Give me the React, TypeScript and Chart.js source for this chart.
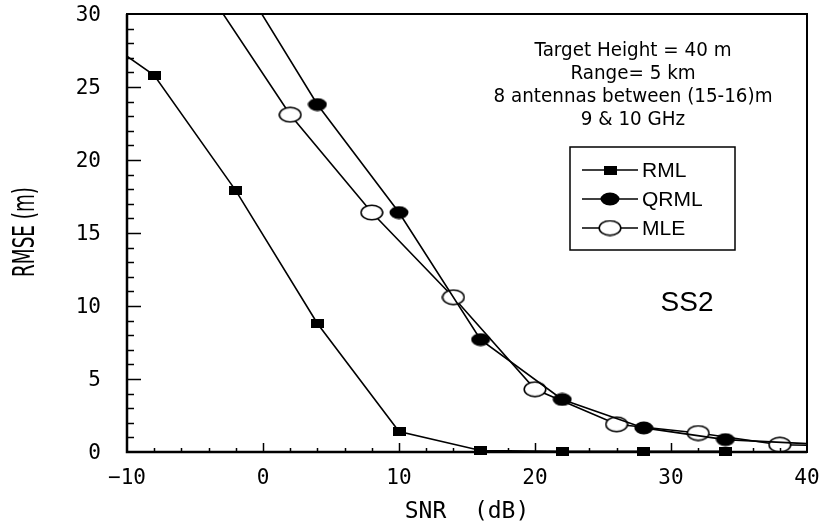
import React, { useEffect, useRef } from "react";
import { Chart, registerables } from "chart.js";

Chart.register(...registerables);

// ---- data ----
const rmlSnr = [-14, -8, -2, 4, 10, 16, 22, 28, 34];
const rmlRmse = [29.7, 25.8, 17.9, 8.8, 1.4, 0.1, 0.05, 0.05, 0.05];

const qrmlSnr = [-2, 4, 10, 16, 22, 28, 34, 46];
const qrmlRmse = [32.9, 23.8, 16.4, 7.7, 3.6, 1.65, 0.85, 0.3];

const mleSnr = [-4, 2, 8, 14, 20, 26, 32, 38, 44];
const mleRmse = [31.5, 23.1, 16.4, 10.6, 4.3, 1.9, 1.3, 0.5, 0.4];

const seriesNames = ["RML", "QRML", "MLE"];
const xTicks = [-10, 0, 10, 20, 30, 40];
const yTicks = [0, 5, 10, 15, 20, 25, 30];

const noteLines = [
  "Target Height = 40 m",
  "Range= 5 km",
  "8 antennas between (15-16)m",
  "9 & 10 GHz",
];
const panelLabel = "SS2";
const xTitle = "SNR  (dB)";
const yTitle = "RMSE (m)";

function makeMarker(kind: string): HTMLCanvasElement {
  const c = document.createElement("canvas");
  const ctx = c.getContext("2d")!;
  if (kind === "rect") {
    c.width = 13;
    c.height = 9;
    ctx.fillStyle = "#000";
    ctx.fillRect(0, 0, 13, 9);
  } else if (kind === "filled") {
    c.width = 20;
    c.height = 14;
    ctx.fillStyle = "#000";
    ctx.beginPath();
    ctx.ellipse(10, 7, 9.5, 6.5, 0, 0, Math.PI * 2);
    ctx.fill();
  } else {
    c.width = 24;
    c.height = 17;
    ctx.fillStyle = "#fff";
    ctx.strokeStyle = "#000";
    ctx.lineWidth = 1.6;
    ctx.beginPath();
    ctx.ellipse(12, 8.5, 10.8, 7.3, 0, 0, Math.PI * 2);
    ctx.fill();
    ctx.stroke();
  }
  return c;
}

export default function App() {
  const ref = useRef<HTMLCanvasElement | null>(null);

  useEffect(() => {
    if (!ref.current) return;
    const mRect = makeMarker("rect");
    const mFilled = makeMarker("filled");
    const mOpen = makeMarker("open");
    const markers = [mRect, mFilled, mOpen];

    const toPts = (xs: number[], ys: number[]) => xs.map((x, i) => ({ x, y: ys[i] }));

    const framePlugin = {
      id: "frame",
      afterDatasetsDraw(chart: any) {
        const { ctx, chartArea: ca, scales } = chart;
        const xs = scales.x;
        const ys = scales.y;
        ctx.save();
        ctx.strokeStyle = "#000";
        ctx.lineWidth = 1.5;
        // inward ticks
        ctx.beginPath();
        for (let v = 1; v < 30; v++) {
          const len = v % 5 === 0 ? 14 : 7;
          const py = Math.round(ys.getPixelForValue(v)) + 0.5;
          ctx.moveTo(ca.left, py);
          ctx.lineTo(ca.left + len, py);
        }
        for (let v = -8; v < 40; v += 2) {
          const len = v % 10 === 0 ? 9 : 4;
          const px = Math.round(xs.getPixelForValue(v)) + 0.5;
          ctx.moveTo(px, ca.bottom);
          ctx.lineTo(px, ca.bottom - len);
        }
        ctx.stroke();
        ctx.lineWidth = 2;
        ctx.strokeRect(ca.left, ca.top, ca.right - ca.left, ca.bottom - ca.top);
        ctx.lineWidth = 2.5;
        ctx.beginPath();
        ctx.moveTo(ca.left, ca.top);
        ctx.lineTo(ca.left, ca.bottom);
        ctx.lineTo(ca.right, ca.bottom);
        ctx.stroke();
        // redraw RML markers that sit on the baseline over the axis
        const meta = chart.getDatasetMeta(0);
        meta.data.forEach((pt: any) => {
          if (pt.x >= ca.left && pt.x <= ca.right && pt.y > ca.bottom - 5) {
            ctx.drawImage(mRect, pt.x - mRect.width / 2, pt.y - mRect.height / 2);
          }
        });
        ctx.restore();
      },
      afterDraw(chart: any) {
        const { ctx, chartArea: ca } = chart;
        ctx.save();
        ctx.fillStyle = "#000";
        // y title (tall condensed)
        ctx.save();
        ctx.font = '30px "DejaVu Sans", sans-serif';
        const tw = ctx.measureText(yTitle).width;
        ctx.translate(26, ca.top + 218);
        ctx.rotate(-Math.PI / 2);
        ctx.scale(90 / tw, 1);
        ctx.textAlign = "center";
        ctx.textBaseline = "middle";
        ctx.fillText(yTitle, 0, 0);
        ctx.restore();
        // annotation (condensed)
        ctx.save();
        ctx.font = '20px "DejaVu Sans", sans-serif';
        const lw = Math.max(...noteLines.map((t) => ctx.measureText(t).width));
        const sx = 279 / lw;
        ctx.translate(ca.left + 506, ca.top + 37);
        ctx.scale(sx, 1);
        ctx.textAlign = "center";
        ctx.textBaseline = "middle";
        noteLines.forEach((t, i) => ctx.fillText(t, 0, i * 23));
        ctx.restore();
        // SS2
        ctx.textAlign = "center";
        ctx.textBaseline = "middle";
        ctx.font = '28px "Liberation Sans", "DejaVu Sans"';
        ctx.fillText(panelLabel, ca.left + 560, ca.top + 289);
        // legend
        const bx = ca.left + 443;
        const by = ca.top + 133;
        ctx.lineWidth = 1.5;
        ctx.strokeStyle = "#000";
        ctx.strokeRect(bx, by, 165, 103);
        ctx.font = '21px "Liberation Sans", "DejaVu Sans"';
        ctx.textAlign = "left";
        seriesNames.forEach((name, i) => {
          const y = by + 23 + i * 29;
          ctx.beginPath();
          ctx.moveTo(bx + 12, y);
          ctx.lineTo(bx + 68, y);
          ctx.stroke();
          const m = markers[i];
          ctx.drawImage(m, bx + 40 - m.width / 2, y - m.height / 2);
          ctx.fillText(name, bx + 72, y + 1);
        });
        ctx.restore();
      },
    };

    const tickFont = { family: '"DejaVu Sans Mono", monospace', size: 21 };

    const chart = new Chart(ref.current, {
      type: "line",
      data: {
        datasets: [
          {
            label: seriesNames[0],
            data: toPts(rmlSnr, rmlRmse),
            borderColor: "#000",
            borderWidth: 1.6,
            pointStyle: mRect as any,
            pointRadius: 6,
            backgroundColor: "#000",
            tension: 0,
          },
          {
            label: seriesNames[1],
            data: toPts(qrmlSnr, qrmlRmse),
            borderColor: "#000",
            borderWidth: 1.6,
            pointStyle: mFilled as any,
            pointRadius: 8,
            backgroundColor: "#000",
            tension: 0,
          },
          {
            label: seriesNames[2],
            data: toPts(mleSnr, mleRmse),
            borderColor: "#000",
            borderWidth: 1.6,
            pointStyle: mOpen as any,
            pointRadius: 9,
            backgroundColor: "#fff",
            tension: 0,
          },
        ],
      },
      options: {
        animation: false,
        responsive: true,
        maintainAspectRatio: false,
        devicePixelRatio: 1,
        layout: { padding: { top: 14, right: 15, left: 0, bottom: 0 } },
        plugins: { legend: { display: false }, tooltip: { enabled: false } },
        scales: {
          x: {
            type: "linear",
            min: -10,
            max: 40,
            afterFit: (s: any) => {
              s.height = 79;
              s.paddingLeft = 0;
              s.paddingRight = 0;
            },
            afterBuildTicks: (s: any) => {
              s.ticks = xTicks.map((v) => ({ value: v }));
            },
            grid: { display: false, drawTicks: false },
            border: { display: false },
            ticks: {
              color: "#000",
              font: tickFont,
              padding: 14,
              maxRotation: 0,
              callback: (v: any) => (Number(v) < 0 ? "\u2212" + Math.abs(Number(v)) : String(v)),
            },
            title: {
              display: true,
              text: xTitle,
              color: "#000",
              font: { family: '"DejaVu Sans Mono", monospace', size: 23 },
              padding: { top: 0, bottom: 5 },
            },
          },
          y: {
            type: "linear",
            min: 0,
            max: 30,
            afterFit: (s: any) => {
              s.width = 127;
              s.paddingTop = 0;
              s.paddingBottom = 0;
            },
            afterBuildTicks: (s: any) => {
              s.ticks = yTicks.map((v) => ({ value: v }));
            },
            grid: { display: false, drawTicks: false },
            border: { display: false },
            ticks: { color: "#000", font: tickFont, padding: 26, labelOffset: 2 },
          },
        },
      },
      plugins: [framePlugin],
    } as any);
    return () => chart.destroy();
  }, []);

  return (
    <div style={{ position: "fixed", left: 0, top: 0, width: 822, height: 531, background: "#fff" }}>
      <canvas ref={ref} />
    </div>
  );
}
